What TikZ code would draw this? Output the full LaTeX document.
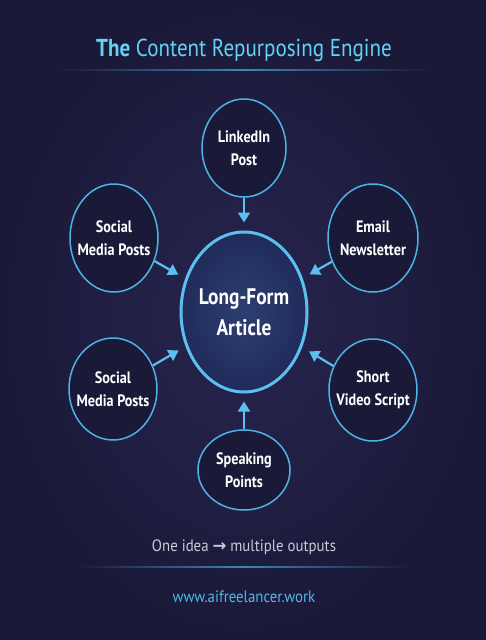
\documentclass[tikz,border=0pt]{standalone}
\usepackage{fontspec}
\setmainfont{PT Sans}
\newfontfamily\narrowfont[FakeStretch=0.86]{PT Sans}
\newfontfamily\footfont[FakeStretch=0.9]{PT Sans}
\newfontfamily\symfont{DejaVu Sans}
\usetikzlibrary{shapes.geometric,arrows.meta}
\definecolor{bgin}{HTML}{27254F}
\definecolor{bgout}{HTML}{1B1938}
\definecolor{cyanline}{HTML}{4DB3E6}
\definecolor{cyanbright}{HTML}{5BC0EF}
\definecolor{titlecol}{HTML}{62D2F6}
\definecolor{satfill}{HTML}{1A1937}
\definecolor{ctrin}{HTML}{2D3F72}
\definecolor{ctrout}{HTML}{202B5A}
\definecolor{subtxt}{HTML}{C9CBD8}
\definecolor{urlcol}{HTML}{4FB8E8}
\definecolor{rulecol}{HTML}{3C86B6}
\begin{document}
\begin{tikzpicture}[x=1pt,y=-1pt,
  sattext/.style={text=white, align=center, font=\narrowfont\fontsize{16.5}{23}\selectfont\bfseries},
  sat/.style={ellipse, draw=cyanline, line width=1.5pt, fill=satfill, inner sep=0pt},
  ctr/.style={ellipse, draw=cyanbright, line width=3pt, inner color=ctrin, outer color=ctrout,
    inner sep=0pt},
  ctrtext/.style={text=white, align=center, font=\narrowfont\fontsize{22.5}{31}\selectfont\bfseries},
  feed/.style={draw=cyanbright, line width=2.2pt, -{Triangle[width=12pt,length=10pt]}, shorten >=8pt}
]
\useasboundingbox (0,0) rectangle (486,640);
\shade[inner color=bgin, outer color=bgout] (0,0) rectangle (486,640);

% title
\node[text=titlecol, font=\narrowfont\fontsize{24.5}{28}\selectfont] (title) at (244,50)
  {\textbf{The} Content Repurposing Engine};
\shade[left color=bgout, right color=bgout, middle color=rulecol] (57,69.5) rectangle (430,70.8);

% center
\node[ctr, minimum width=126pt, minimum height=160pt,
  label={[ctrtext]center:Long-Form\\Article}] (art) at (244,312) {};

% satellites
\node[sat, minimum width=84pt, minimum height=98pt,
  label={[sattext]center:LinkedIn\\Post}] (li) at (244,148) {};
\node[sat, minimum width=88pt, minimum height=108pt,
  label={[sattext]center:Social\\Media Posts}] (smt) at (114,238) {};
\node[sat, minimum width=90pt, minimum height=108pt,
  label={[sattext]center:Email\\Newsletter}] (em) at (373,238) {};
\node[sat, minimum width=88pt, minimum height=102pt,
  label={[sattext]center:Social\\Media Posts}] (smb) at (113,389) {};
\node[sat, minimum width=88pt, minimum height=102pt,
  label={[sattext]center:Short\\Video Script}] (sv) at (373,390) {};
\node[sat, minimum width=92pt, minimum height=80pt,
  label={[sattext]center:Speaking\\Points}] (sp) at (244,470) {};

% arrows
\draw[feed] (li) -- (art);
\draw[feed] (smt) -- (art);
\draw[feed] (em) -- (art);
\draw[feed] (smb) -- (art);
\draw[feed] (sv) -- (art);
\draw[feed] (sp) -- (art);

% footer
\node[text=subtxt, font=\footfont\fontsize{16.5}{20}\selectfont] (tag) at (244,547)
  {One idea {\symfont\bfseries →} multiple outputs};
\shade[left color=bgout, right color=bgout, middle color=rulecol] (77,566.5) rectangle (410,567.7);
\node[text=urlcol, font=\footfont\fontsize{16.5}{20}\selectfont] (url) at (244,597) {www.aifreelancer.work};
\end{tikzpicture}
\end{document}
